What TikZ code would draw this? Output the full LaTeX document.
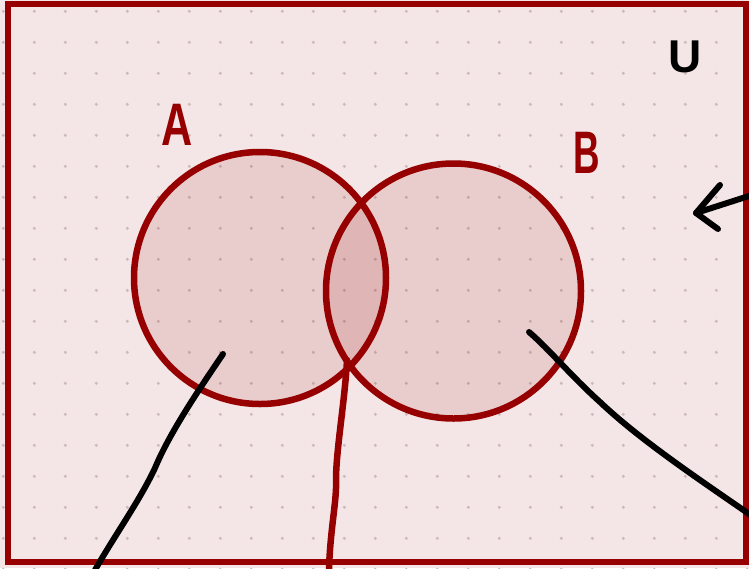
\documentclass[tikz,border=0pt]{standalone}
\usepackage{fontspec}
\setmainfont{Liberation Sans}
\definecolor{bgpink}{RGB}{244,230,230}
\definecolor{dotc}{RGB}{206,186,186}
\definecolor{dred}{RGB}{150,0,0}
\tikzset{
  setcirc/.style={circle, draw=dred, line width=6.5pt, fill=dred, fill opacity=0.11, draw opacity=1, inner sep=0pt},
  setlabel/.style={text=dred, font=\bfseries\fontsize{60}{60}\selectfont, xscale=0.72, inner sep=0pt},
  pen/.style={line width=6pt, line cap=round, line join=round, black},
  redpen/.style={line width=6.5pt, line cap=round, line join=round, dred},
}
\begin{document}
\begin{tikzpicture}[x=1pt,y=-1pt]
\useasboundingbox (0,0) rectangle (749,568);
\fill[bgpink] (0,0) rectangle (749,568);
\foreach \i in {0,...,24}{
  \foreach \j in {0,...,18}{
    \fill[dotc] ({3.3+31*\i},{11.3+31*\j}) circle (1.7pt);
  }
}
% sets
\node[setcirc, minimum size=252pt] (A) at (260,278) {};
\node[setcirc, minimum size=255pt] (B) at (453.5,291) {};
% universe frame
\node[draw=dred, line width=6.5pt, minimum width=738pt, minimum height=558pt, inner sep=0pt] (U) at (377,283) {};
% labels
\node[setlabel] (la) at (177,125) {A};
\node[setlabel, xscale=0.85] (lb) at (587,153) {B};
\node[text=black, font=\bfseries\fontsize{46}{46}\selectfont, inner sep=0pt] (lu) at (685,57) {U};
% connectors
\coordinate (a1) at (223,354);
\coordinate (a2) at (95,570);
\draw[pen] (a1) .. controls (200,388) and (170,432) .. (155,468) .. controls (140,500) and (115,535) .. (a2);
\coordinate (i1) at (347,360);
\coordinate (i2) at (329,570);
\draw[redpen] (i1) .. controls (345,400) and (336,450) .. (336,480) .. controls (337,500) and (330,530) .. (i2);
\coordinate (b1) at (529,332);
\coordinate (b2) at (752,516);
\draw[pen] (b1) .. controls (550,350) and (570,375) .. (600,402) .. controls (640,440) and (700,480) .. (b2);
% arrow toward the frame
\coordinate (t0) at (752,195);
\coordinate (tip) at (696,213);
\draw[pen] (t0) -- (tip);
\draw[pen] (720,185) -- (tip) -- (718,229);
\end{tikzpicture}
\end{document}
